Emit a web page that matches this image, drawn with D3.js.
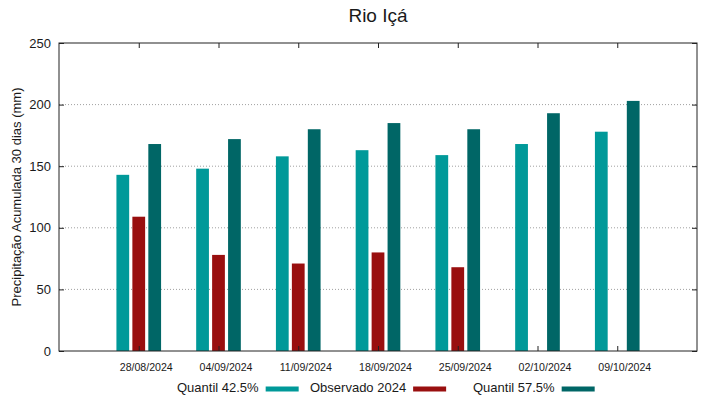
<!DOCTYPE html>
<html>
<head>
<meta charset="utf-8">
<script src="https://cdn.jsdelivr.net/npm/d3@7"></script>
<style>
  body { margin: 0; background: #fff; }
  text { font-family: "Liberation Sans", Arial, sans-serif; fill: #1a1a1a; }
</style>
</head>
<body>
<svg id="chart" width="719" height="399"></svg>
<script>
// data
const dates = ["28/08/2024", "04/09/2024", "11/09/2024", "18/09/2024", "25/09/2024", "02/10/2024", "09/10/2024"];
const quantil425 = [143, 148, 158, 163, 159, 168, 178];
const observado = [109, 78, 71, 80, 68, null, null];
const quantil575 = [168, 172, 180, 185, 180, 193, 203];
const yTicks = [0, 50, 100, 150, 200, 250];

const series = [
  { name: "Quantil 42.5%", values: quantil425, color: "#009999", offset: -0.2 },
  { name: "Observado 2024", values: observado, color: "#990f0f", offset: 0 },
  { name: "Quantil 57.5%", values: quantil575, color: "#006666", offset: 0.2 }
];

const svg = d3.select("#chart");
const margin = { left: 59, right: 22, top: 43, bottom: 48 };
const W = 719, H = 399;
const plotW = W - margin.left - margin.right;
const plotH = H - margin.top - margin.bottom;

// gnuplot-like numeric x range: one slot of padding on each side
let x = d3.scaleLinear().domain([-1, 7]).range([0, plotW]);
let y = d3.scaleLinear().domain([0, 250]).range([plotH, 0]);
const barW = x(0.16) - x(0);

const g = svg.append("g").attr("transform", "translate(" + margin.left + "," + margin.top + ")");

// grid
g.append("g").selectAll("line")
  .data(yTicks.filter(d => d > 0 && d < 250))
  .enter().append("line")
  .attr("x1", 0).attr("x2", plotW)
  .attr("y1", d => y(d)).attr("y2", d => y(d))
  .attr("stroke", "#a0a0a0").attr("stroke-width", 1)
  .attr("stroke-dasharray", "1,2");

// bars
series.forEach(s => {
  g.append("g").selectAll("rect")
    .data(s.values.map((v, i) => ({ v: v, i: i })).filter(d => d.v != null))
    .enter().append("rect")
    .attr("x", d => x(d.i + s.offset) - barW / 2)
    .attr("width", barW)
    .attr("y", d => y(d.v))
    .attr("height", d => plotH - y(d.v))
    .attr("fill", s.color);
});

// axes, ticks mirrored inward like gnuplot
const dateIdx = d3.range(dates.length);
g.append("g").attr("transform", "translate(0," + plotH + ")")
  .call(d3.axisBottom(x).tickValues(dateIdx).tickSize(-5).tickPadding(12).tickFormat(i => dates[i]))
  .call(a => a.select(".domain").remove())
  .call(a => a.selectAll("text").attr("dx", 7).attr("font-size", 10.6).attr("font-family", "Liberation Sans, Arial, sans-serif").attr("fill", "#1a1a1a"));
g.append("g")
  .call(d3.axisTop(x).tickValues(dateIdx).tickSize(-5).tickFormat(""))
  .call(a => a.select(".domain").remove());
g.append("g")
  .call(d3.axisLeft(y).tickValues(yTicks).tickSize(-5).tickPadding(8))
  .call(a => a.select(".domain").remove())
  .call(a => a.selectAll("text").attr("font-size", 13).attr("font-family", "Liberation Sans, Arial, sans-serif").attr("fill", "#1a1a1a"));
g.append("g").attr("transform", "translate(" + plotW + ",0)")
  .call(d3.axisRight(y).tickValues(yTicks).tickSize(-5).tickFormat(""))
  .call(a => a.select(".domain").remove());
g.selectAll(".tick line").attr("stroke", "#222");

g.append("rect")
  .attr("x", 0).attr("y", 0).attr("width", plotW).attr("height", plotH)
  .attr("fill", "none").attr("stroke", "#222").attr("stroke-width", 1);

// title and y label
svg.append("text")
  .attr("x", margin.left + plotW / 2).attr("y", 22)
  .attr("text-anchor", "middle").attr("font-size", 19)
  .text("Rio Içá");

svg.append("text")
  .attr("transform", "translate(21," + (margin.top + plotH / 2) + ") rotate(-90)")
  .attr("text-anchor", "middle").attr("font-size", 13)
  .text("Precipitação Acumulada 30 dias (mm)");

// legend: text then swatch
const legendX = [177, 310, 473];
const leg = svg.append("g").attr("transform", "translate(0,392)");
series.forEach((s, k) => {
  const t = leg.append("text")
    .attr("x", legendX[k]).attr("y", 0)
    .attr("font-size", 13).text(s.name);
  const tw = t.node().getComputedTextLength();
  leg.append("rect")
    .attr("x", legendX[k] + tw + 7).attr("y", -5.5)
    .attr("width", 33).attr("height", 5)
    .attr("fill", s.color);
});
</script>
</body>
</html>
